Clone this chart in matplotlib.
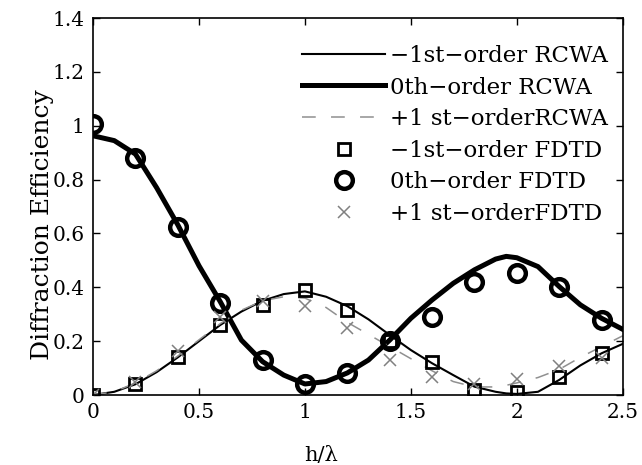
import matplotlib
matplotlib.use("Agg")
import matplotlib.pyplot as plt

plt.rcParams['font.family'] = ['DejaVu Serif']

# RCWA curves
x_rcwa = [0.0, 0.1, 0.2, 0.3, 0.4, 0.5, 0.6, 0.7, 0.8, 0.9, 1.0, 1.1, 1.2, 1.3,
          1.4, 1.5, 1.6, 1.7, 1.8, 1.9, 1.95, 2.0, 2.1, 2.2, 2.3, 2.4, 2.5]
m1_rcwa = [0.0, 0.012, 0.04, 0.085, 0.14, 0.2, 0.26, 0.31, 0.35, 0.375, 0.385, 0.365, 0.33, 0.281,
           0.223, 0.167, 0.118, 0.074, 0.031, 0.012, 0.006, 0.004, 0.012, 0.056, 0.11, 0.155, 0.19]
z_rcwa = [0.963, 0.945, 0.895, 0.77, 0.632, 0.48, 0.347, 0.204, 0.124, 0.074, 0.041, 0.05, 0.082, 0.13,
          0.204, 0.285, 0.353, 0.415, 0.465, 0.505, 0.515, 0.51, 0.477, 0.403, 0.335, 0.285, 0.244]
p1_rcwa = [0.0, 0.012, 0.045, 0.09, 0.145, 0.205, 0.265, 0.315, 0.35, 0.365, 0.36, 0.325, 0.27, 0.225,
           0.18, 0.135, 0.09, 0.05, 0.03, 0.03, 0.036, 0.045, 0.065, 0.095, 0.14, 0.18, 0.22]

# FDTD points
x_fdtd = [0.0, 0.2, 0.4, 0.6, 0.8, 1.0, 1.2, 1.4, 1.6, 1.8, 2.0, 2.2, 2.4]
m1_fdtd = [0.0, 0.04, 0.14, 0.26, 0.335, 0.39, 0.315, 0.2, 0.123, 0.02, 0.012, 0.067, 0.157]
z_fdtd = [1.005, 0.88, 0.625, 0.34, 0.13, 0.04, 0.08, 0.2, 0.29, 0.42, 0.455, 0.40, 0.28]
p1_fdtd = [0.0, 0.05, 0.165, 0.29, 0.35, 0.33, 0.25, 0.13, 0.068, 0.04, 0.06, 0.108, 0.137]

labels = ["\u22121st\u2212order RCWA", "0th\u2212order RCWA", "+1 st\u2212orderRCWA",
          "\u22121st\u2212order FDTD", "0th\u2212order FDTD", "+1 st\u2212orderFDTD"]

fig = plt.figure(figsize=(6.42, 4.65), dpi=100)
ax = fig.add_axes([0.145, 0.1505, 0.825, 0.8105])

ax.plot(x_rcwa, m1_rcwa, color='black', lw=1.5, label=labels[0])
ax.plot(x_rcwa, z_rcwa, color='black', lw=3.6, label=labels[1])
ax.plot(x_rcwa, p1_rcwa, color='#909090', lw=1.1, dashes=(9, 10), label=labels[2])
ax.plot(x_fdtd, m1_fdtd, ls='none', marker='s', ms=9, mfc='none', mec='black', mew=2.0, label=labels[3])
ax.plot(x_fdtd, z_fdtd, ls='none', marker='o', ms=12, mfc='none', mec='black', mew=3.2, label=labels[4])
ax.plot(x_fdtd, p1_fdtd, ls='none', marker='x', ms=9, mec='#808080', mew=1.1, label=labels[5])

ax.set_xlim(0, 2.5)
ax.set_ylim(0, 1.4)
ax.set_xticks([0, 0.5, 1, 1.5, 2, 2.5])
ax.set_xticklabels(['0', '0.5', '1', '1.5', '2', '2.5'])
ax.set_yticks([0, 0.2, 0.4, 0.6, 0.8, 1.0, 1.2, 1.4])
ax.set_yticklabels(['0', '0.2', '0.4', '0.6', '0.8', '1', '1.2', '1.4'])
ax.tick_params(direction='in', length=5, width=1.0, top=True, right=True, labelsize=14.5, pad=6)
for s in ax.spines.values():
    s.set_linewidth(1.2)

ax.set_xlabel('h/\u03bb', fontsize=15)
ax.set_ylabel('Diffraction Efficiency', fontsize=18)
ax.xaxis.set_label_coords(0.43, -0.136)
ax.yaxis.set_label_coords(-0.073, 0.451)

leg = ax.legend(loc='upper right', frameon=False, fontsize=16.5, handlelength=3.65,
                handletextpad=0.2, labelspacing=0.42, borderaxespad=0.0, borderpad=0.0,
                bbox_to_anchor=(0.972, 0.929))

fig.savefig('out.png', dpi=100)
